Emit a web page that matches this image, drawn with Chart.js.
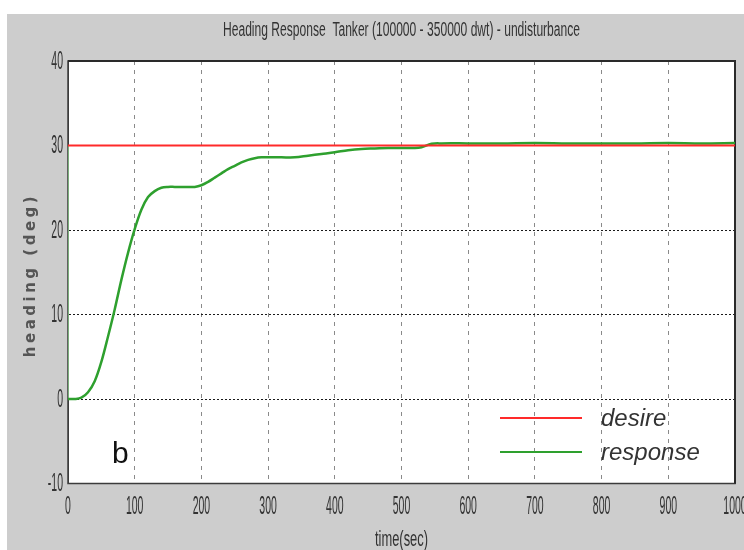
<!DOCTYPE html>
<html>
<head>
<meta charset="utf-8">
<script src="https://cdn.jsdelivr.net/npm/chart.js@4.4.1/dist/chart.umd.min.js"></script>
<style>
  html, body { margin: 0; padding: 0; background: #fff; }
  #wrap { width: 744px; height: 550px; }
</style>
</head>
<body>
<div id="wrap"><canvas id="heading-chart"></canvas></div>
<script>
// Heading response of the tanker
const timeSec = [0, 10, 20, 30, 40, 50, 60, 70, 80, 90, 100, 110, 120, 130, 140, 150, 160, 170, 180, 190,
  200, 210, 220, 230, 240, 250, 260, 270, 280, 290, 300, 320, 340, 360, 380, 400, 420, 440, 460, 480,
  500, 520, 530, 545, 560, 600, 650, 700, 750, 800, 850, 900, 950, 1000];
const responseDeg = [0, 0, 0.15, 0.8, 2.1, 4.4, 7.4, 10.6, 14.1, 17.3, 20.1, 22.4, 23.9, 24.6, 25.0, 25.1, 25.1, 25.1, 25.1, 25.1,
  25.3, 25.7, 26.2, 26.7, 27.2, 27.6, 28.0, 28.3, 28.5, 28.6, 28.6, 28.6, 28.6, 28.8, 29.0, 29.2, 29.45, 29.6, 29.65, 29.7,
  29.7, 29.7, 29.8, 30.2, 30.25, 30.25, 30.25, 30.3, 30.25, 30.25, 30.25, 30.3, 30.25, 30.3];
const desireTime = [0, 1000];
const desireDeg = [30, 30];
// green step drawn along the left axis at t = 0
const startTime = [0, 0];
const startDeg = [0, 30];

const xTicks = [0, 100, 200, 300, 400, 500, 600, 700, 800, 900, 1000];
const yTicks = [-10, 0, 10, 20, 30, 40];

const titleText = 'Heading Response  Tanker (100000 - 350000 dwt) - undisturbance';
const xTitle = 'time(sec)';
const yTitle = 'heading (deg)';
const legendNames = ['desire', 'response'];

const toPoints = (xs, ys) => xs.map((x, i) => ({ x: x, y: ys[i] }));

// squeezed text, the original labels are very narrow
function narrowText(ctx, text, x, y, sx, align) {
  ctx.save();
  ctx.translate(x, y);
  ctx.scale(sx, 1);
  ctx.textAlign = align;
  ctx.fillText(text, 0, 0);
  ctx.restore();
}

const scopeLook = {
  id: 'scopeLook',
  beforeDraw(chart) {
    const { ctx, chartArea: a } = chart;
    ctx.save();
    ctx.fillStyle = '#ffffff';
    ctx.fillRect(0, 0, chart.width, chart.height);
    ctx.fillStyle = '#cdcdcd';
    ctx.fillRect(7, 14, chart.width - 7, chart.height - 14);
    ctx.fillStyle = '#ffffff';
    ctx.fillRect(a.left, a.top, a.right - a.left, a.bottom - a.top);
    ctx.restore();
  },
  beforeDatasetsDraw(chart) {
    const { ctx, chartArea: a } = chart;
    ctx.save();
    ctx.strokeStyle = '#3c3c3c';
    ctx.lineWidth = 1.5;
    ctx.strokeRect(a.left, a.top, a.right - a.left, a.bottom - a.top);
    ctx.lineWidth = 2;
    ctx.strokeStyle = '#2a2a2a';
    ctx.beginPath();
    ctx.moveTo(a.left, a.top);
    ctx.lineTo(a.right, a.top);
    ctx.lineTo(a.right, a.bottom);
    ctx.stroke();
    ctx.restore();
  },
  afterDraw(chart) {
    const { ctx, chartArea: a } = chart;
    const xs = chart.scales.x, ys = chart.scales.y;
    ctx.save();
    ctx.fillStyle = '#333';
    ctx.textBaseline = 'alphabetic';

    // title
    ctx.font = '20px "Liberation Sans"';
    const tw = ctx.measureText(titleText).width;
    narrowText(ctx, titleText, (a.left + a.right) / 2, 36, 357 / tw, 'center');

    // tick labels
    ctx.font = '25px "Liberation Sans"';
    ctx.textBaseline = 'middle';
    yTicks.forEach(v => narrowText(ctx, String(v), a.left - 5, ys.getPixelForValue(v) + 1, 0.42, 'right'));
    xTicks.forEach(v => narrowText(ctx, String(v), xs.getPixelForValue(v), 507, 0.42, 'center'));

    // x axis title
    ctx.font = '22px "Liberation Sans"';
    ctx.textBaseline = 'alphabetic';
    const xw = ctx.measureText(xTitle).width;
    narrowText(ctx, xTitle, (a.left + a.right) / 2, 546, 53 / xw, 'center');

    // y axis title, rotated
    ctx.save();
    ctx.translate(31, 275);
    ctx.rotate(-Math.PI / 2);
    ctx.fillStyle = '#555';
    ctx.font = 'bold 15px "DejaVu Sans"';
    ctx.letterSpacing = '3.5px';
    ctx.textAlign = 'center';
    ctx.textBaseline = 'middle';
    ctx.fillText(yTitle, 0, 0);
    ctx.restore();

    // panel letter
    ctx.fillStyle = '#111';
    ctx.font = '30px "Liberation Sans"';
    ctx.textAlign = 'left';
    ctx.fillText('b', 112, 463);

    // legend inside the axes
    const colors = ['#ff2a2a', '#2ea02e'];
    const rows = [418, 452];
    ctx.font = 'italic 24px "Liberation Sans"';
    ctx.textBaseline = 'middle';
    legendNames.forEach((name, i) => {
      ctx.strokeStyle = colors[i];
      ctx.lineWidth = 2;
      ctx.beginPath();
      ctx.moveTo(500, rows[i]);
      ctx.lineTo(582, rows[i]);
      ctx.stroke();
      ctx.fillStyle = '#333';
      ctx.fillText(name, 601, rows[i] + 1);
    });
    ctx.restore();
  }
};

new Chart(document.getElementById('heading-chart'), {
  type: 'line',
  data: {
    datasets: [
      {
        label: 'desire',
        data: toPoints(desireTime, desireDeg),
        borderColor: '#ff2a2a',
        borderWidth: 2,
        pointRadius: 0
      },
      {
        label: 'response',
        data: toPoints(timeSec, responseDeg),
        borderColor: '#2ea02e',
        borderWidth: 2.5,
        pointRadius: 0,
        tension: 0.35
      },
      {
        label: 'start',
        data: toPoints(startTime, startDeg),
        borderColor: '#8fd48f',
        borderWidth: 1.5,
        pointRadius: 0
      }
    ]
  },
  options: {
    responsive: true,
    maintainAspectRatio: false,
    animation: false,
    events: [],
    layout: { padding: { top: 61, right: 9, left: 0, bottom: 0 } },
    plugins: {
      legend: { display: false },
      tooltip: { enabled: false },
      title: { display: false }
    },
    scales: {
      x: {
        type: 'linear',
        min: 0,
        max: 1000,
        afterBuildTicks: s => { s.ticks = xTicks.map(v => ({ value: v })); },
        afterFit: s => { s.height = 66.5; },
        ticks: { display: false },
        grid: { color: '#8a8a8a', lineWidth: 1, drawTicks: false },
        border: { display: true, color: '#3c3c3c', dash: [4, 5] }
      },
      y: {
        type: 'linear',
        min: -10,
        max: 40,
        afterBuildTicks: s => { s.ticks = yTicks.map(v => ({ value: v })); },
        afterFit: s => { s.width = 68; },
        ticks: { display: false },
        grid: { color: '#1a1a1a', lineWidth: 1, drawTicks: false },
        border: { display: true, color: '#3c3c3c', dash: [2, 2] }
      }
    }
  },
  plugins: [scopeLook]
});
</script>
</body>
</html>
